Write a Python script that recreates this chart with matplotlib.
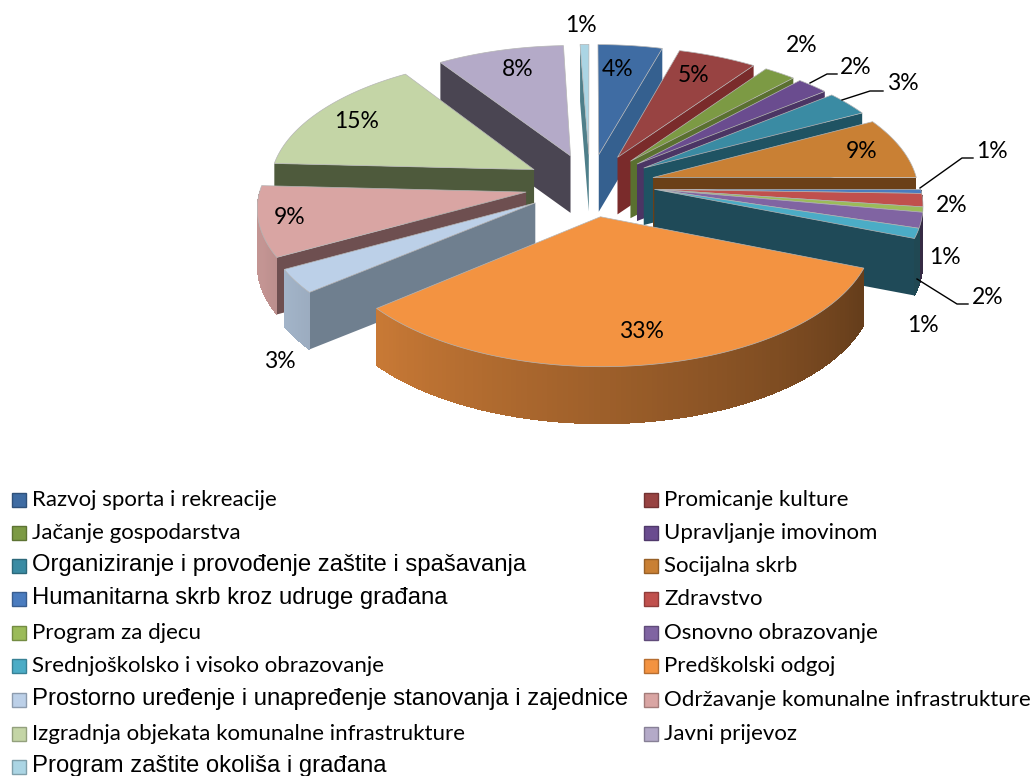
# -*- coding: utf-8 -*-
# exploded 3D pie (perspective drawn by hand) with a two column legend
import numpy as np
import matplotlib
matplotlib.use('Agg')
import matplotlib.pyplot as plt
from matplotlib.patches import Polygon, Rectangle

names_left = ['Razvoj sporta i rekreacije', 'Jačanje gospodarstva',
              'Organiziranje i provođenje zaštite i spašavanja',
              'Humanitarna skrb kroz udruge građana', 'Program za djecu',
              'Srednjoškolsko i visoko obrazovanje',
              'Prostorno uređenje i unapređenje stanovanja i zajednice',
              'Izgradnja objekata komunalne infrastrukture',
              'Program zaštite okoliša i građana']
names_right = ['Promicanje kulture', 'Upravljanje imovinom', 'Socijalna skrb',
               'Zdravstvo', 'Osnovno obrazovanje', 'Predškolski odgoj',
               'Održavanje komunalne infrastrukture', 'Javni prijevoz']

# clockwise from twelve o'clock, percent
values = [4.4, 5.4, 2.2, 2.2, 3.1, 7.7, 0.5, 1.65, 0.65, 1.95, 1.25,
          33.0, 3.0, 8.8, 14.9, 7.9, 0.6]
# as printed on the chart
pct_labels = ['4%', '5%', '2%', '2%', '3%', '9%', '1%', '2%', '1%', '2%', '1%',
              '33%', '3%', '9%', '15%', '8%', '1%']

top_cols = ['#3f6ca3', '#984342', '#7c9a44', '#6a4c8f', '#3a8ba3', '#c98034',
            '#4a7cbf', '#c0504d', '#9bbb59', '#8064a2', '#4bacc6',
            '#f39341', '#bcd0e8', '#d9a5a3', '#c4d5a6', '#b4aac8', '#abd5e4']
side_cols = ['#35608f', '#7a2b2b', '#5a7030', '#4b3564', '#1f5363', '#6b4018',
             '#1f4a58', '#1f4a58', '#1f4a58', '#1f4a58', '#1f4a58',
             '#6b4018', '#6f7f8f', '#6e4f50', '#4e5a3c', '#4a4552', '#4f7f8a']

# pie geometry in pixels
cx, cy = 590, 185
rx, ry = 265, 127.4
persp = 0.1034
expl = 0.246
depth = 57


def project(u, v):
    s = 1 / (1 + persp * v)
    return cx + rx * u * s, cy - ry * v * s


def shade(col, f):
    return tuple(c * f for c in matplotlib.colors.to_rgb(col))


fig = plt.figure(figsize=(10.31, 7.76), dpi=100)
ax = fig.add_axes([0, 0, 1, 1])
ax.set_xlim(0, 1031)
ax.set_ylim(776, 0)
ax.axis('off')

edges = np.cumsum([0] + values) * 3.6
# last slice closes the circle, there is a small gap in front of it
edges[-2] = 360 - values[-1] * 3.6
edges[-1] = 360
mids = (edges[:-1] + edges[1:]) / 2
# back slices first
order = sorted(range(len(values)), key=lambda i: -np.cos(np.radians(mids[i])))
# the five thin slices share one apex
mids[6:11] = 98

for z, i in enumerate(order):
    m = np.radians(mids[i])
    u0, v0 = expl * np.sin(m), expl * np.cos(m)
    th = np.radians(np.linspace(edges[i], edges[i + 1], 120))
    ax_, ay_ = project(u0, v0)
    xs, ys = project(u0 + np.sin(th), v0 + np.cos(th))
    base = z * 10 + 1

    # radial walls, only the ones facing the viewer
    if np.sin(th[0]) < 0:
        wall = [(ax_, ay_), (xs[0], ys[0]), (xs[0], ys[0] + depth), (ax_, ay_ + depth)]
        ax.add_patch(Polygon(wall, fc=side_cols[i], ec='none', zorder=base))
    if np.sin(th[-1]) > 0:
        wall = [(ax_, ay_), (xs[-1], ys[-1]), (xs[-1], ys[-1] + depth), (ax_, ay_ + depth)]
        ax.add_patch(Polygon(wall, fc=side_cols[i], ec='none', zorder=base))
    # outer wall, shaded by angle
    for j in range(len(xs) - 1):
        if np.cos(th[j]) > 0:
            continue
        t = np.degrees(th[j])
        f = np.clip(0.42 + (t - 115) / 119 * 0.42, 0.42, 0.9)
        quad = [(xs[j], ys[j]), (xs[j + 1], ys[j + 1]),
                (xs[j + 1], ys[j + 1] + depth), (xs[j], ys[j] + depth)]
        ax.add_patch(Polygon(quad, fc=shade(top_cols[i], f), ec='none',
                             antialiased=False, zorder=base + 1))
    # top face
    face = [(ax_, ay_)] + list(zip(xs, ys))
    ax.add_patch(Polygon(face, fc=top_cols[i], ec='#b5b5b5', lw=0.5, zorder=base + 2))

# data labels
lab_font = 'Lato'
lab_xy = [(618, 69), (694, 76), (802, 46), (856, 68), (903, 84), (862, 151),
          (992, 152), (952, 205), (945, 257), (988, 298), (923, 326),
          (641, 332), (280, 361), (290, 217), (357, 122), (518, 70), (581, 25)]
for s, (lx, ly) in zip(pct_labels, lab_xy):
    ax.text(lx, ly, s, ha='center', va='center',
            fontsize=16.5, family=lab_font, color='black', zorder=500)

# leader lines
leaders = [[(810, 83), (827, 74), (837, 74)], [(842, 100), (870, 91), (883, 91)],
           [(920, 188), (962, 158), (973, 158)], [(917, 279), (957, 304), (968, 304)]]
for pts in leaders:
    ax.plot(*zip(*pts), color='black', lw=1, zorder=499)

# legend
rows = [500, 533, 566, 599, 633, 666, 700, 734, 767]
left_cols = [top_cols[i] for i in [0, 2, 4, 6, 8, 10, 12, 14, 16]]
right_cols = [top_cols[i] for i in [1, 3, 5, 7, 9, 11, 13, 15]]
arial_rows = [2, 3, 6, 8]

for k, (n, c) in enumerate(zip(names_left, left_cols)):
    ax.add_patch(Rectangle((12, rows[k] - 7), 14, 14, fc=c, ec=shade(c, 0.75), lw=1))
    if k in arial_rows:
        ax.text(32, rows[k] - 1, n, va='center', fontsize=17.2, family='Liberation Sans')
    else:
        ax.text(32, rows[k], n, va='center', fontsize=16, family=lab_font)
for k, (n, c) in enumerate(zip(names_right, right_cols)):
    ax.add_patch(Rectangle((644, rows[k] - 7), 14, 14, fc=c, ec=shade(c, 0.75), lw=1))
    ax.text(664, rows[k], n, va='center', fontsize=16, family=lab_font)

fig.savefig('out.png', dpi=100)
